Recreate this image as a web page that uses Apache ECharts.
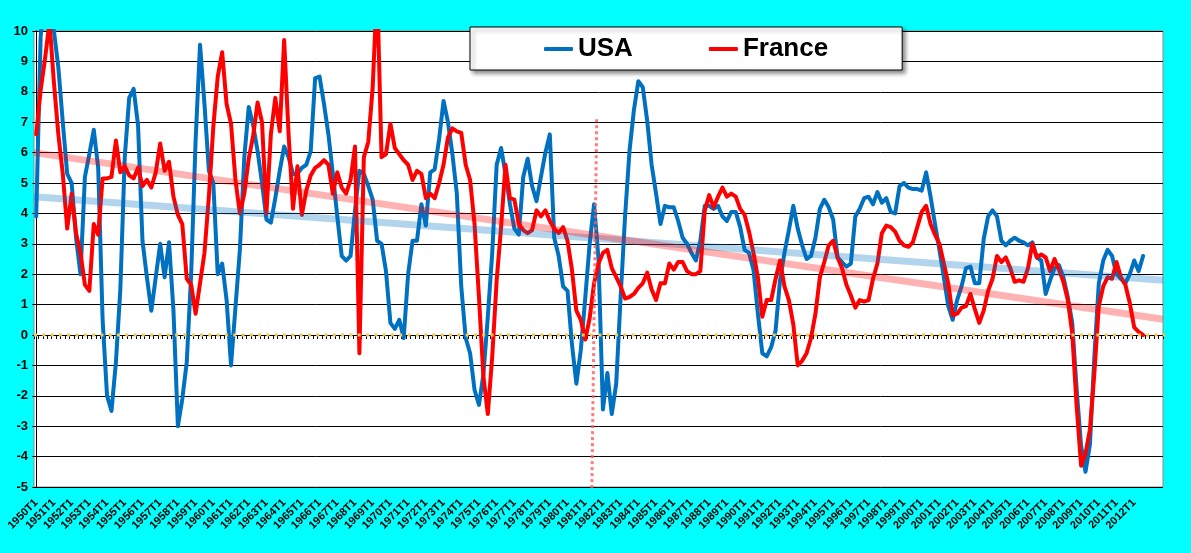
<!DOCTYPE html>
<html>
<head>
<meta charset="utf-8">
<script src="https://cdn.jsdelivr.net/npm/echarts@6/dist/echarts.min.js"></script>
<style>
html,body{margin:0;padding:0;background:#00FFFF;}
#chart{width:1191px;height:553px;}
</style>
</head>
<body>
<div id="chart"></div>
<script>
// Quarterly categories 1950T1 .. 2012T4, then blank slots to the axis end
const firstYear = 1950;
const lastYear = 2012;
const quarterNames = ['T1', 'T2', 'T3', 'T4'];
const blankSlots = 3;

// Year-over-year GDP growth (%), starting 1950T1
const usa = [
  3.9, 9.8, 11.5, 11.0, 10.0, 8.8, 7.0, 5.3, 5.0, 3.2,
  2.0, 5.2, 5.95, 6.75, 5.5, 0.5, -2.0, -2.5, -0.9, 1.5,
  5.85, 7.8, 8.1, 6.9, 3.1, 1.9, 0.8, 1.9, 3.0, 1.9,
  3.05, 0.8, -3.0, -2.1, -0.9, 2.0, 6.4, 9.55, 7.6, 5.4,
  5.0, 2.0, 2.35, 1.15, -1.0, 0.9, 2.8, 5.85, 7.5, 6.9,
  6.05, 5.0, 3.8, 3.7, 4.5, 5.4, 6.2, 5.85, 5.3, 5.3,
  5.5, 5.6, 6.05, 8.45, 8.5, 7.6, 6.6, 5.3, 3.9, 2.6,
  2.45, 2.6, 4.1, 5.4, 5.3, 4.9, 4.45, 3.1, 3.0, 2.1,
  0.4, 0.2, 0.5, -0.1, 2.0, 3.1, 3.1, 4.3, 3.6, 5.35,
  5.45, 6.45, 7.7, 7.0, 5.95, 4.65, 1.6, -0.1, -0.6, -1.8,
  -2.3, -1.3, 0.6, 2.7, 5.6, 6.15, 5.3, 4.3, 3.5, 3.3,
  5.2, 5.8, 4.9, 4.4, 5.2, 6.0, 6.6, 3.2, 2.6, 1.6,
  1.45, -0.3, -1.6, -0.5, 1.2, 3.0, 4.3, 2.5, -2.45, -1.25,
  -2.6, -1.6, 1.25, 3.9, 6.05, 7.4, 8.35, 8.15, 7.05, 5.6,
  4.65, 3.65, 4.25, 4.2, 4.2, 3.75, 3.2, 3.0, 2.7, 2.45,
  3.1, 4.25, 4.25, 4.15, 4.25, 3.9, 3.75, 4.05, 4.05, 3.55,
  2.8, 2.7, 2.15, 0.7, -0.6, -0.7, -0.4, 0.15, 1.8, 2.7,
  3.45, 4.25, 3.5, 2.95, 2.5, 2.6, 3.2, 4.15, 4.45, 4.2,
  3.8, 2.55, 2.4, 2.25, 2.35, 3.9, 4.15, 4.5, 4.55, 4.3,
  4.7, 4.35, 4.5, 4.05, 4.0, 4.9, 5.0, 4.85, 4.8, 4.8,
  4.75, 5.35, 4.55, 3.65, 2.8, 1.9, 0.95, 0.5, 1.15, 1.6,
  2.2, 2.25, 1.7, 1.7, 3.15, 3.9, 4.1, 3.9, 3.1, 2.95,
  3.1, 3.2, 3.1, 3.05, 2.95, 3.05, 2.55, 2.45, 1.35, 1.8,
  2.2, 2.3, 1.9, 1.25, 0.4, -1.8, -3.65, -4.5, -3.6, -0.7,
  1.7, 2.45, 2.8, 2.6, 2.0, 1.85, 1.7, 2.0, 2.45, 2.1,
  2.6
];
const france = [
  6.6, 8.05, 9.1, 10.3, 8.3, 6.6, 5.3, 3.5, 4.65, 3.35,
  2.7, 1.65, 1.45, 3.65, 3.3, 5.15, 5.15, 5.2, 6.4, 5.35,
  5.55, 5.25, 5.15, 5.5, 4.9, 5.1, 4.85, 5.35, 6.3, 5.4,
  5.7, 4.55, 3.95, 3.65, 1.85, 1.65, 0.7, 1.7, 2.7, 4.55,
  6.85, 8.5, 9.3, 7.6, 6.95, 5.1, 4.0, 4.65, 5.8, 6.55,
  7.65, 7.0, 4.0, 6.6, 7.8, 6.7, 9.7, 6.6, 4.15, 5.55,
  3.95, 4.75, 5.25, 5.5, 5.6, 5.75, 5.6, 4.65, 5.35, 4.85,
  4.65, 5.1, 6.2, -0.6, 5.85, 6.35, 8.15, 11.5, 5.85, 5.95,
  6.95, 6.15, 5.95, 5.75, 5.6, 5.1, 5.4, 5.3, 4.5, 4.65,
  4.5, 5.0, 5.6, 6.5, 6.8, 6.7, 6.65, 5.6, 5.1, 3.65,
  1.25, -1.35, -2.6, -0.7, 1.8, 3.55, 5.6, 4.5, 4.45, 3.65,
  3.45, 3.35, 3.45, 4.1, 3.9, 4.1, 3.75, 3.5, 3.35, 3.55,
  3.1, 2.15, 0.8, 0.5, -0.15, 0.55, 1.7, 2.35, 2.7, 2.8,
  2.2, 1.9, 1.6, 1.2, 1.25, 1.35, 1.55, 1.7, 2.05, 1.5,
  1.15, 1.7, 1.7, 2.35, 2.15, 2.4, 2.4, 2.1, 2.0, 2.0,
  2.1, 4.1, 4.6, 4.2, 4.55, 4.85, 4.55, 4.65, 4.55, 4.15,
  3.95, 3.4, 2.7, 1.9, 0.6, 1.15, 1.15, 1.85, 2.45, 1.6,
  1.15, 0.35, -1.0, -0.85, -0.6, -0.1, 0.7, 1.9, 2.4, 2.95,
  3.1, 2.55, 2.2, 1.65, 1.3, 0.9, 1.15, 1.1, 1.15, 1.85,
  2.35, 3.35, 3.6, 3.55, 3.4, 3.1, 2.95, 2.9, 3.05, 3.55,
  4.05, 4.25, 3.65, 3.3, 3.0, 2.35, 1.7, 0.65, 0.7, 0.9,
  0.95, 1.35, 0.85, 0.4, 0.8, 1.45, 1.85, 2.6, 2.4, 2.55,
  2.2, 1.75, 1.8, 1.75, 2.2, 3.0, 2.55, 2.65, 2.55, 2.1,
  2.5, 2.15, 1.75, 1.15, 0.05, -2.35, -4.3, -3.9, -3.1, -1.25,
  0.95, 1.6, 1.9, 1.85, 2.4, 1.9, 1.65, 1.05, 0.25, 0.1,
  0.0
];

// Linear trend lines: value at the left and right edges of the plot
const usaTrend = [4.55, 1.8];
const franceTrend = [6.0, 0.52];
// Red dotted marker line: [category position, value] at top and bottom
const markerLine = [[126.6, 7.1], [125.5, -5.05]];

const yTicks = { min: -5, max: 10, step: 1 };

const categories = [];
for (let y = firstYear; y <= lastYear; y++) {
  for (const q of quarterNames) categories.push(y + q);
}
for (let k = 0; k < blankSlots; k++) categories.push('');
const nCat = categories.length;

const chart = echarts.init(document.getElementById('chart'), null, { renderer: 'canvas' });

const font = 'Arial, "Liberation Sans", sans-serif';

chart.setOption({
  backgroundColor: '#00FFFF',
  animation: false,
  grid: {
    left: 34, top: 31, width: 1129, height: 456,
    show: true, backgroundColor: '#FFFFFF',
    borderColor: '#8C8C8C', borderWidth: 1
  },
  legend: {
    data: ['USA', 'France'],
    left: 470, top: 27,
    padding: [9, 74, 8, 74],
    itemGap: 76,
    itemWidth: 29, itemHeight: 4,
    icon: 'roundRect',
    backgroundColor: '#FFFFFF',
    borderColor: '#000000', borderWidth: 1,
    shadowColor: 'rgba(0,0,0,0.45)', shadowBlur: 4, shadowOffsetX: 3, shadowOffsetY: 3,
    textStyle: { fontFamily: font, fontSize: 26, fontWeight: 'bold', color: '#000' }
  },
  xAxis: [{
    type: 'category',
    data: categories,
    boundaryGap: true,
    axisLine: { lineStyle: { color: '#000', width: 1 } },
    axisTick: { show: true, interval: 0, length: 4, lineStyle: { color: '#000' } },
    axisLabel: {
      interval: 3, rotate: 45, margin: 14,
      fontFamily: font, fontSize: 11, fontWeight: 'bold', color: '#000'
    },
    splitLine: { show: false }
  }, {
    type: 'value', show: false,
    min: -0.5, max: nCat - 0.5
  }],
  yAxis: {
    type: 'value',
    min: yTicks.min, max: yTicks.max, interval: yTicks.step,
    axisLine: { show: true, lineStyle: { color: '#000', width: 1 } },
    axisTick: { show: true, length: 4, lineStyle: { color: '#000' } },
    axisLabel: { margin: 6, fontFamily: font, fontSize: 13, fontWeight: 'bold', color: '#000' },
    splitLine: { show: true, lineStyle: { color: '#000', width: 1 } }
  },
  series: [
    {
      name: 'USA', type: 'line', data: usa,
      showSymbol: false, symbol: 'none', smooth: false,
      lineStyle: { color: '#0070C0', width: 4, join: 'round', cap: 'round' },
      itemStyle: { color: '#0070C0' }, z: 3
    },
    {
      name: 'France', type: 'line', data: france,
      showSymbol: false, symbol: 'none', smooth: false,
      lineStyle: { color: '#FF0000', width: 4, join: 'round', cap: 'round' },
      itemStyle: { color: '#FF0000' }, z: 4
    },
    {
      name: 'usaTrend', type: 'line', xAxisIndex: 1,
      data: [[-0.5, usaTrend[0]], [nCat - 0.5, usaTrend[1]]],
      showSymbol: false, symbol: 'none', silent: true,
      lineStyle: { color: '#0070C0', width: 7, opacity: 0.3 }, z: 5
    },
    {
      name: 'franceTrend', type: 'line', xAxisIndex: 1,
      data: [[-0.5, franceTrend[0]], [nCat - 0.5, franceTrend[1]]],
      showSymbol: false, symbol: 'none', silent: true,
      lineStyle: { color: '#FF0000', width: 7, opacity: 0.3 }, z: 5
    },
    {
      name: 'zero', type: 'line', xAxisIndex: 1, clip: false,
      data: [[-0.5, 0], [nCat + 0.6, 0]],
      showSymbol: false, symbol: 'none', silent: true,
      lineStyle: { color: '#F5C850', width: 3, type: [3, 5.3], cap: 'butt' }, z: 6
    },
    {
      name: 'marker', type: 'line', xAxisIndex: 1, clip: false,
      data: markerLine,
      showSymbol: false, symbol: 'none', silent: true,
      lineStyle: { color: 'rgba(255,90,90,0.8)', width: 3, type: [3, 3], cap: 'butt' }, z: 6
    }
  ]
});
</script>
</body>
</html>
